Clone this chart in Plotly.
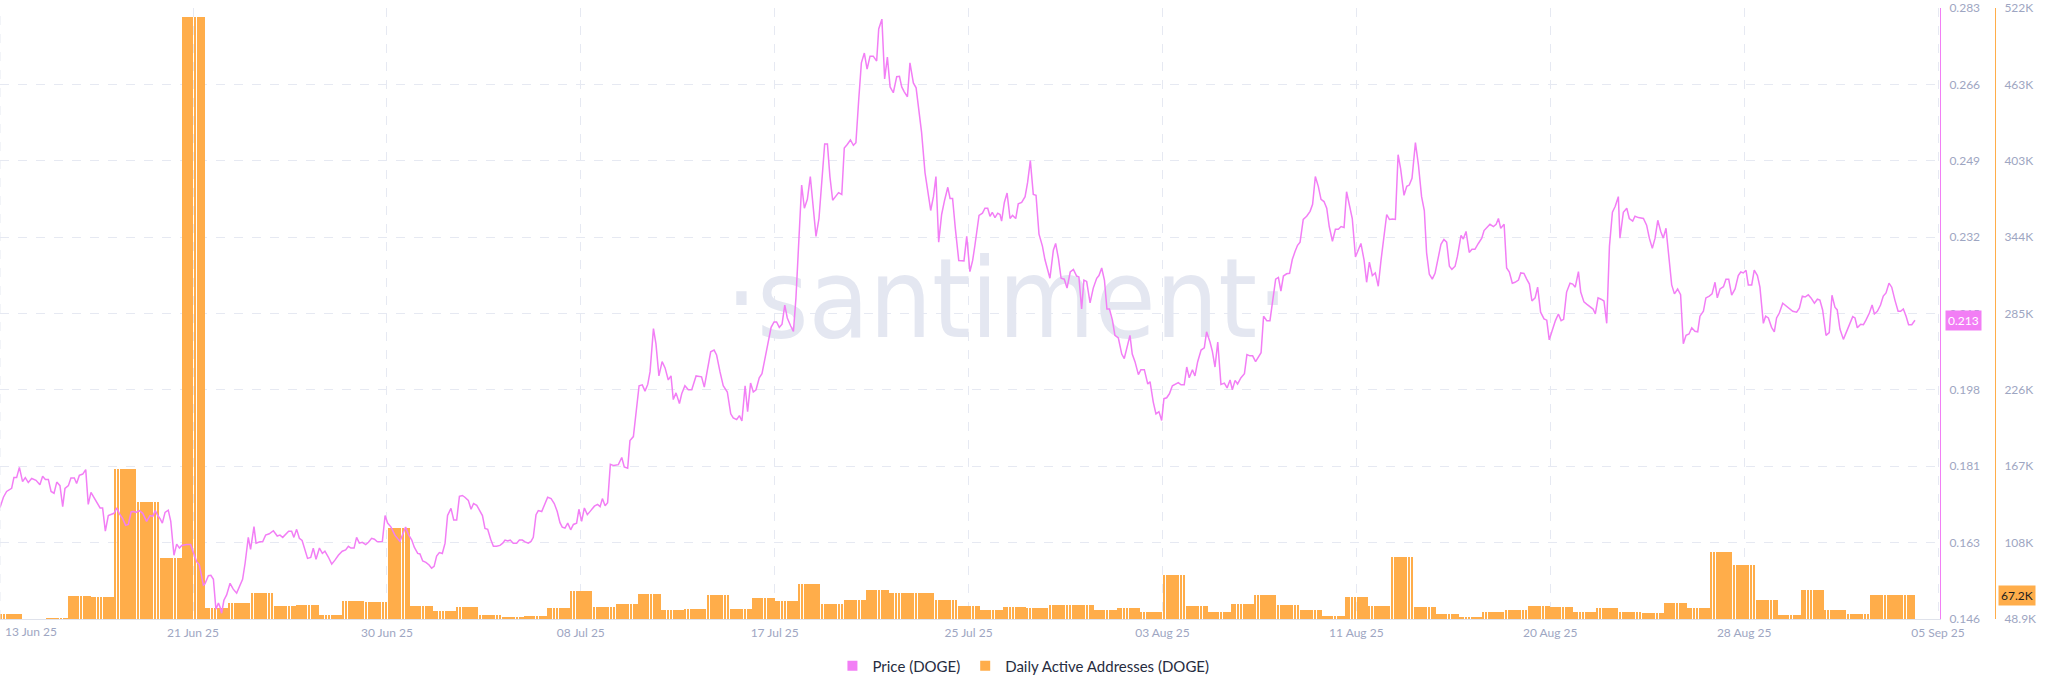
import plotly.graph_objects as go
import pandas as pd

START = pd.Timestamp("2025-06-13 00:00")

# Daily active addresses (thousands), one value per day starting 13 Jun 25
daa_k = [52.9, 49.2, 49.8, 66.5, 66.1, 165.0, 139.3, 95.8, 515.0, 57.2,
         61.2, 69.0, 58.8, 59.7, 52.0, 62.8, 61.9, 119.3, 58.8, 55.4,
         58.2, 52.0, 50.4, 51.0, 57.2, 70.5, 58.2, 60.3, 68.0, 55.7,
         56.3, 67.7, 56.6, 65.3, 62.8, 75.8, 60.3, 64.0, 71.1, 69.3,
         69.3, 63.4, 58.8, 55.7, 58.2, 57.2, 59.7, 59.7, 56.0, 57.2,
         54.5, 82.9, 58.8, 54.5, 60.3, 67.4, 59.7, 56.0, 51.0, 65.9,
         58.8, 96.7, 58.2, 52.6, 50.4, 54.1, 55.7, 58.8, 57.9, 54.1,
         57.2, 54.5, 53.5, 61.0, 57.2, 101.1, 90.6, 63.4, 52.0, 71.4,
         55.7, 52.6, 67.4, 67.2]

# Price (DOGE): time in days since 13 Jun 25 00:00, and price in USD
price_day = [
    0.00, 0.15, 0.29, 0.51, 0.61, 0.73, 0.85, 0.91, 0.99, 1.11, 1.24, 1.39, 1.58, 1.75, 1.87, 1.99,
    2.12, 2.24, 2.37, 2.49, 2.63, 2.75, 2.85, 3.00, 3.11, 3.26, 3.36, 3.48, 3.63, 3.76, 3.87, 3.99,
    4.12, 4.24, 4.39, 4.50, 4.62, 4.75, 4.90, 5.00, 5.12, 5.23, 5.38, 5.51, 5.63, 5.75, 5.85, 5.96,
    6.11, 6.26, 6.43, 6.58, 6.70, 6.81, 6.92, 7.02, 7.12, 7.24, 7.38, 7.49, 7.63, 7.75, 7.87, 7.97,
    8.19, 8.36, 8.48, 8.63, 8.74, 8.92, 8.99, 9.14, 9.25, 9.36, 9.47, 9.58, 9.65, 9.72, 9.82, 9.94,
    10.09, 10.23, 10.38, 10.53, 10.64, 10.75, 10.89, 10.99, 11.14, 11.23, 11.40, 11.52, 11.65, 11.81, 11.99, 12.16,
    12.28, 12.40, 12.54, 12.66, 12.79, 12.89, 13.01, 13.13, 13.25, 13.38, 13.49, 13.63, 13.74, 13.86, 14.01, 14.14,
    14.25, 14.40, 14.55, 14.69, 14.84, 15.01, 15.16, 15.28, 15.39, 15.53, 15.64, 15.76, 15.89, 16.04, 16.16, 16.30,
    16.42, 16.55, 16.77, 16.89, 17.00, 17.15, 17.32, 17.54, 17.66, 17.79, 17.91, 18.06, 18.17, 18.32, 18.42, 18.54,
    18.68, 18.82, 18.93, 19.04, 19.15, 19.27, 19.40, 19.52, 19.63, 19.78, 19.90, 20.03, 20.15, 20.28, 20.39, 20.54,
    20.66, 20.77, 20.91, 21.01, 21.16, 21.27, 21.39, 21.52, 21.64, 21.78, 21.93, 22.05, 22.15, 22.27, 22.38, 22.51,
    22.66, 22.78, 22.91, 23.03, 23.17, 23.29, 23.39, 23.51, 23.61, 23.76, 23.87, 24.02, 24.17, 24.31, 24.44, 24.56,
    24.66, 24.78, 24.90, 25.03, 25.15, 25.29, 25.39, 25.51, 25.63, 25.76, 25.91, 26.07, 26.21, 26.32, 26.42, 26.54,
    26.65, 26.77, 26.92, 27.12, 27.27, 27.38, 27.53, 27.63, 27.78, 27.89, 28.03, 28.17, 28.29, 28.41,
    28.51, 28.66, 28.77, 28.90, 29.04, 29.17, 29.31, 29.43, 29.53, 29.65, 29.80, 29.90, 30.04, 30.19, 30.34, 30.53,
    30.77, 30.89, 31.02, 31.17, 31.32, 31.43, 31.58, 31.72, 31.90, 32.05, 32.16, 32.31, 32.43, 32.54, 32.68, 32.79,
    32.92, 33.04, 33.16, 33.30, 33.42, 33.55, 33.70, 33.82, 33.95, 34.06, 34.18, 34.30, 34.42, 34.53, 34.68, 34.80,
    34.91, 35.03, 35.16, 35.28, 35.41, 35.54, 35.67, 35.79, 35.92, 36.05, 36.17, 36.29, 36.40, 36.52, 36.65, 36.78,
    36.92, 37.03, 37.16, 37.30, 37.43, 37.54, 37.66, 37.78, 37.91, 38.03, 38.16, 38.30, 38.45, 38.54, 38.68, 38.80,
    38.92, 39.04, 39.18, 39.33, 39.45, 39.55, 39.66, 39.80, 39.91, 40.06, 40.18, 40.29, 40.42, 40.57, 40.69, 40.82,
    40.94, 41.05, 41.17, 41.30, 41.43, 41.57, 41.67, 41.78, 41.90, 42.05, 42.28, 42.40, 42.54, 42.66,
    42.76, 42.94, 43.09, 43.20, 43.32, 43.42, 43.52, 43.64, 43.76, 43.86, 43.93, 44.05, 44.17, 44.30, 44.41, 44.55,
    44.66, 44.81, 44.96, 45.07, 45.19, 45.32, 45.44, 45.57, 45.72, 45.83, 46.05, 46.20, 46.30, 46.42, 46.54, 46.68,
    46.80, 46.94, 47.08, 47.22, 47.32, 47.44, 47.54, 47.66, 47.81, 47.95, 48.10, 48.20, 48.32, 48.44, 48.55, 48.66,
    48.79, 48.90, 49.05, 49.20, 49.31, 49.43, 49.56, 49.66, 49.78, 49.93, 50.04, 50.19, 50.34, 50.44, 50.58, 50.70,
    50.83, 50.95, 51.05, 51.17, 51.29, 51.42, 51.53, 51.68, 51.80, 51.94, 52.05, 52.16, 52.30, 52.41, 52.53, 52.68,
    52.82, 52.92, 53.07, 53.17, 53.29, 53.41, 53.55, 53.70, 53.82, 53.95, 54.05, 54.17, 54.28, 54.43, 54.58, 54.69,
    54.82, 54.94, 55.07, 55.19, 55.31, 55.42, 55.56, 55.70, 55.82, 55.95, 56.07, 56.18, 56.29, 56.43, 56.56, 56.68,
    56.80, 56.91,
    57.02, 57.16, 57.31, 57.46, 57.57, 57.69, 57.82, 57.94, 58.07, 58.19, 58.30, 58.44, 58.57, 58.70, 58.82, 58.95,
    59.06, 59.18, 59.31, 59.45, 59.58, 59.69, 59.83, 59.94, 60.06, 60.19, 60.32, 60.45, 60.57, 60.69, 60.82, 60.94,
    61.08, 61.20, 61.32, 61.43, 61.58, 61.70, 61.81, 61.93, 62.08, 62.21, 62.35, 62.47, 62.57, 62.69, 62.82, 62.94,
    63.06, 63.20, 63.33, 63.45, 63.57, 63.68, 63.82, 63.92, 64.08, 64.18, 64.30, 64.44, 64.56, 64.69, 64.84, 64.99,
    65.09, 65.24, 65.35, 65.50, 65.62, 65.72, 65.82, 65.97, 66.08, 66.20, 66.33, 66.45, 66.60, 66.70, 66.84, 66.96,
    67.08, 67.19, 67.33, 67.44, 67.57, 67.72, 67.84, 67.95, 68.10, 68.22, 68.35, 68.47, 68.58, 68.71, 68.86, 68.98,
    69.09, 69.23, 69.33, 69.47, 69.59, 69.74, 69.87, 69.97, 70.09, 70.22, 70.35, 70.47, 70.59, 70.72, 70.84, 70.98,
    71.05, 71.20, 71.35, 71.46, 71.61, 71.71, 71.86, 72.08, 72.22, 72.34, 72.47, 72.59, 72.71, 72.84, 72.95, 73.07,
    73.20, 73.32, 73.44, 73.58, 73.71, 73.83, 73.95, 74.08, 74.20, 74.34, 74.46, 74.56, 74.71, 74.82, 74.97, 75.09,
    75.22, 75.32, 75.44, 75.59, 75.70, 75.82, 75.95, 76.10, 76.24, 76.35, 76.46, 76.58, 76.68, 76.83, 76.94, 77.08,
    77.19, 77.34, 77.44, 77.56, 77.70, 77.82, 77.92, 78.04, 78.19, 78.33, 78.48, 78.63, 78.80, 78.92, 79.05, 79.17,
    79.31, 79.43, 79.58, 79.71, 79.82, 79.94, 80.09, 80.23, 80.35, 80.48, 80.58, 80.70, 80.85, 80.99, 81.14, 81.26,
    81.36, 81.46, 81.61, 81.73, 81.84, 81.99, 82.11, 82.21, 82.34, 82.48, 82.60, 82.72, 82.85, 82.97, 83.11, 83.25,
    83.36, 83.48, 83.60, 83.71, 83.85, 83.99,
]

price_val = [
    0.1710, 0.1733, 0.1746, 0.1753, 0.1777, 0.1777, 0.1800, 0.1786, 0.1768, 0.1777, 0.1766, 0.1775, 0.1771, 0.1761, 0.1780, 0.1773,
    0.1773, 0.1746, 0.1742, 0.1767, 0.1759, 0.1712, 0.1753, 0.1759, 0.1776, 0.1776, 0.1764, 0.1782, 0.1785, 0.1795, 0.1717, 0.1744,
    0.1733, 0.1721, 0.1709, 0.1709, 0.1657, 0.1692, 0.1694, 0.1697, 0.1709, 0.1697, 0.1685, 0.1670, 0.1672, 0.1700, 0.1701, 0.1699,
    0.1703, 0.1697, 0.1679, 0.1692, 0.1690, 0.1703, 0.1692, 0.1685, 0.1675, 0.1699, 0.1704, 0.1679, 0.1603, 0.1628, 0.1619, 0.1625,
    0.1627, 0.1627, 0.1609, 0.1588, 0.1582, 0.1536, 0.1539, 0.1557, 0.1558, 0.1549, 0.1482, 0.1496, 0.1487, 0.1473, 0.1502, 0.1514,
    0.1540, 0.1527, 0.1518, 0.1536, 0.1549, 0.1585, 0.1643, 0.1616, 0.1667, 0.1630, 0.1633, 0.1633, 0.1648, 0.1651, 0.1658, 0.1646,
    0.1648, 0.1643, 0.1650, 0.1657, 0.1657, 0.1643, 0.1661, 0.1641, 0.1636, 0.1614, 0.1596, 0.1598, 0.1619, 0.1594, 0.1619, 0.1607,
    0.1612, 0.1599, 0.1583, 0.1592, 0.1603, 0.1612, 0.1615, 0.1623, 0.1619, 0.1619, 0.1643, 0.1630, 0.1632, 0.1627, 0.1632, 0.1641,
    0.1639, 0.1633, 0.1634, 0.1692, 0.1675, 0.1666, 0.1648, 0.1634, 0.1648, 0.1666, 0.1650, 0.1637, 0.1621, 0.1607, 0.1606, 0.1590,
    0.1587, 0.1581, 0.1574, 0.1578, 0.1601, 0.1609, 0.1607, 0.1630, 0.1692, 0.1708, 0.1682, 0.1682, 0.1735, 0.1737, 0.1733, 0.1726,
    0.1706, 0.1719, 0.1715, 0.1706, 0.1692, 0.1663, 0.1661, 0.1639, 0.1623, 0.1623, 0.1625, 0.1630, 0.1637, 0.1635, 0.1637, 0.1630,
    0.1630, 0.1637, 0.1637, 0.1633, 0.1630, 0.1634, 0.1643, 0.1694, 0.1703, 0.1701, 0.1715, 0.1733, 0.1730, 0.1719, 0.1701, 0.1676,
    0.1666, 0.1664, 0.1675, 0.1660, 0.1672, 0.1675, 0.1706, 0.1679, 0.1709, 0.1694, 0.1703, 0.1713, 0.1717, 0.1712, 0.1730, 0.1714,
    0.1721, 0.1807, 0.1804, 0.1806, 0.1822, 0.1801, 0.1798, 0.1860, 0.1869, 0.1925, 0.1983, 0.1985, 0.1971, 0.1986,
    0.2014, 0.2111, 0.2077, 0.2005, 0.2037, 0.2023, 0.1996, 0.2005, 0.1952, 0.1967, 0.1943, 0.1965, 0.1983, 0.1974, 0.1974, 0.2005,
    0.2003, 0.1980, 0.2019, 0.2059, 0.2063, 0.2052, 0.2014, 0.1983, 0.1969, 0.1920, 0.1911, 0.1907, 0.1916, 0.1904, 0.1983, 0.1925,
    0.1989, 0.1969, 0.1974, 0.2001, 0.2010, 0.2046, 0.2086, 0.2114, 0.2126, 0.2126, 0.2114, 0.2121, 0.2164, 0.2135, 0.2117, 0.2105,
    0.2180, 0.2314, 0.2433, 0.2381, 0.2401, 0.2452, 0.2385, 0.2318, 0.2358, 0.2439, 0.2525, 0.2525, 0.2452, 0.2399, 0.2407, 0.2416,
    0.2412, 0.2516, 0.2524, 0.2534, 0.2522, 0.2528, 0.2622, 0.2707, 0.2729, 0.2693, 0.2722, 0.2722, 0.2711, 0.2783, 0.2805, 0.2671,
    0.2720, 0.2653, 0.2640, 0.2676, 0.2677, 0.2653, 0.2642, 0.2631, 0.2707, 0.2662, 0.2651, 0.2604, 0.2551, 0.2461, 0.2416, 0.2376,
    0.2407, 0.2452, 0.2305, 0.2367, 0.2399, 0.2428, 0.2403, 0.2403, 0.2336, 0.2264, 0.2263, 0.2318, 0.2239, 0.2264,
    0.2298, 0.2365, 0.2370, 0.2381, 0.2381, 0.2363, 0.2372, 0.2360, 0.2370, 0.2367, 0.2352, 0.2394, 0.2415, 0.2358, 0.2365, 0.2358,
    0.2391, 0.2394, 0.2407, 0.2439, 0.2488, 0.2412, 0.2410, 0.2323, 0.2296, 0.2266, 0.2224, 0.2287, 0.2302, 0.2269, 0.2224, 0.2222,
    0.2202, 0.2238, 0.2244, 0.2229, 0.2227, 0.2155, 0.2220, 0.2217, 0.2169, 0.2202, 0.2224, 0.2230, 0.2247, 0.2220, 0.2155, 0.2155,
    0.2130, 0.2096, 0.2090, 0.2054, 0.2044, 0.2068, 0.2096, 0.2054, 0.2037, 0.2008, 0.2019, 0.2019, 0.1987, 0.1992, 0.1947, 0.1920,
    0.1925, 0.1905, 0.1954, 0.1956, 0.1965, 0.1983, 0.1986, 0.1990, 0.1985, 0.1985, 0.2025, 0.2001, 0.2019, 0.2005, 0.2037, 0.2063,
    0.2068, 0.2104, 0.2081, 0.2061, 0.2025, 0.2081, 0.1986, 0.1989, 0.1978, 0.1996, 0.1974, 0.1995, 0.1987, 0.2001, 0.2010, 0.2053,
    0.2050, 0.2050, 0.2037, 0.2047, 0.2057, 0.2139, 0.2129, 0.2129, 0.2177, 0.2222, 0.2226, 0.2195, 0.2229, 0.2234, 0.2235, 0.2266,
    0.2284, 0.2298,
    0.2305, 0.2356, 0.2363, 0.2374, 0.2390, 0.2452, 0.2430, 0.2401, 0.2396, 0.2381, 0.2340, 0.2307, 0.2334, 0.2334, 0.2340, 0.2338,
    0.2418, 0.2385, 0.2358, 0.2272, 0.2287, 0.2302, 0.2264, 0.2215, 0.2260, 0.2230, 0.2236, 0.2206, 0.2264, 0.2318, 0.2367, 0.2356,
    0.2357, 0.2356, 0.2501, 0.2470, 0.2410, 0.2430, 0.2433, 0.2448, 0.2528, 0.2479, 0.2407, 0.2376, 0.2281, 0.2233, 0.2222, 0.2235,
    0.2264, 0.2300, 0.2311, 0.2305, 0.2251, 0.2244, 0.2251, 0.2273, 0.2320, 0.2312, 0.2329, 0.2282, 0.2289, 0.2289, 0.2302, 0.2314,
    0.2331, 0.2340, 0.2345, 0.2340, 0.2345, 0.2358, 0.2336, 0.2345, 0.2247, 0.2238, 0.2213, 0.2215, 0.2220, 0.2236, 0.2235, 0.2222,
    0.2211, 0.2173, 0.2180, 0.2204, 0.2148, 0.2133, 0.2130, 0.2086, 0.2113, 0.2129, 0.2144, 0.2129, 0.2132, 0.2193, 0.2213, 0.2211,
    0.2204, 0.2239, 0.2193, 0.2171, 0.2166, 0.2159, 0.2155, 0.2144, 0.2180, 0.2177, 0.2173, 0.2123, 0.2296, 0.2372, 0.2385, 0.2407,
    0.2314, 0.2372, 0.2381, 0.2358, 0.2352, 0.2363, 0.2360, 0.2358, 0.2343, 0.2314, 0.2291, 0.2314, 0.2354, 0.2329, 0.2314, 0.2336,
    0.2264, 0.2209, 0.2189, 0.2200, 0.2187, 0.2077, 0.2096, 0.2099, 0.2113, 0.2105, 0.2104, 0.2139, 0.2150, 0.2180, 0.2184, 0.2189,
    0.2215, 0.2180, 0.2200, 0.2205, 0.2222, 0.2222, 0.2186, 0.2200, 0.2230, 0.2238, 0.2236, 0.2242, 0.2209, 0.2209, 0.2242, 0.2230,
    0.2204, 0.2123, 0.2139, 0.2135, 0.2114, 0.2104, 0.2135, 0.2146, 0.2168, 0.2162, 0.2155, 0.2150, 0.2148, 0.2157, 0.2184, 0.2182,
    0.2187, 0.2180, 0.2168, 0.2177, 0.2175, 0.2153, 0.2096, 0.2102, 0.2186, 0.2159, 0.2153, 0.2110, 0.2087, 0.2104, 0.2123, 0.2138,
    0.2135, 0.2113, 0.2121, 0.2120, 0.2130, 0.2146, 0.2164, 0.2144, 0.2150, 0.2164, 0.2184, 0.2191, 0.2213, 0.2204, 0.2175, 0.2150,
    0.2150, 0.2155, 0.2139, 0.2120, 0.2120, 0.2130,
]

x_tick_labels = ["21 Jun 25", "30 Jun 25", "08 Jul 25", "17 Jul 25", "25 Jul 25",
                 "03 Aug 25", "11 Aug 25", "20 Aug 25", "28 Aug 25", "05 Sep 25"]
first_tick_label = "13 Jun 25"
price_tick_labels = ["0.146", "0.163", "0.181", "0.198", "0.215", "0.232", "0.249", "0.266", "0.283"]
daa_tick_labels = ["48.9K", "108K", "167K", "226K", "285K", "344K", "403K", "463K", "522K"]
price_range = [0.146, 0.283]
daa_range = [48900, 522000]
last_price_label = "0.213"
last_daa_label = "67.2K"
last_daa_value = 67200

PINK = "#F27EF5"
ORANGE = "#FFAD4A"
GRID = "#E6E9F2"
TICK = "#9EA6C2"
FONT = "Lato"

n = min(len(price_day), len(price_val))
price_x = [START + pd.Timedelta(days=d) for d in price_day[:n]]
price_y = price_val[:n]

# DAA: each daily value drawn as thin stripes across the day (8 per day)
STRIPES = 8
bar_x, bar_y = [], []
for k, v in enumerate(daa_k):
    for j in range(STRIPES):
        bar_x.append(START + pd.Timedelta(days=k + (j + 0.5) / STRIPES))
        bar_y.append(v * 1000)
bar_width_ms = 24 / STRIPES * 3600 * 1000 * 0.7

PX_PER_DAY = 22.8
x_end = START + pd.Timedelta(days=1940 / PX_PER_DAY)
tick_days = [8.465 + i * 8.504 for i in range(len(x_tick_labels))]
x_tickvals = [START + pd.Timedelta(days=d) for d in tick_days]

n_y = len(price_tick_labels)
price_tickvals = [price_range[0] + i * (price_range[1] - price_range[0]) / (n_y - 1) for i in range(n_y)]
daa_tickvals = [daa_range[0] + i * (daa_range[1] - daa_range[0]) / (n_y - 1) for i in range(n_y)]

fig = go.Figure()

fig.add_trace(go.Bar(
    x=bar_x, y=bar_y, width=bar_width_ms, marker=dict(color=ORANGE, line=dict(width=0)),
    yaxis="y", xaxis="x", showlegend=False, hoverinfo="skip",
))

# watermark (drawn beneath the price line)
fig.add_trace(go.Scatter(
    x=[START + pd.Timedelta(days=44.17)], y=[0.2153], mode="text", text=["·santiment·"],
    textfont=dict(size=110, color="#E4E7F1",
                  family="Liberation Sans Narrow, DejaVu Sans Condensed, Open Sans"),
    textposition="middle center",
    yaxis="y2", showlegend=False, hoverinfo="skip",
))

fig.add_trace(go.Scatter(
    x=price_x, y=price_y, mode="lines", line=dict(color=PINK, width=1.5),
    yaxis="y2", showlegend=False, hoverinfo="skip",
))

# legend entries with square swatches
fig.add_trace(go.Scatter(x=[None], y=[None], mode="markers", name="Price (DOGE)",
                         marker=dict(symbol="square", size=10, color=PINK), yaxis="y2"))
fig.add_trace(go.Scatter(x=[None], y=[None], mode="markers", name="Daily Active Addresses (DOGE)",
                         marker=dict(symbol="square", size=10, color=ORANGE), yaxis="y2"))

fig.update_layout(
    width=2048, height=693,
    margin=dict(l=0, r=53, t=8, b=74),
    paper_bgcolor="white", plot_bgcolor="white",
    bargap=0,
    font=dict(family=FONT, color=TICK, size=12),
    xaxis=dict(
        type="date", domain=[0, 1940 / 1995], range=[START, x_end],
        tickvals=x_tickvals, ticktext=x_tick_labels,
        showgrid=True, gridcolor=GRID, griddash="dash", gridwidth=1,
        showline=True, linecolor="#DFE2EB", linewidth=1,
        ticks="", tickfont=dict(size=12, color=TICK, family=FONT),
        ticklabelstandoff=3, zeroline=False, fixedrange=True,
    ),
    yaxis=dict(
        range=daa_range, side="right", anchor="free", position=1.0,
        tickvals=daa_tickvals, ticktext=daa_tick_labels,
        showgrid=True, gridcolor=GRID, griddash="dash", gridwidth=1,
        showline=True, linecolor=ORANGE, linewidth=1,
        ticks="", tickfont=dict(size=12, color=TICK, family=FONT),
        ticklabelstandoff=6, zeroline=False,
    ),
    yaxis2=dict(
        range=price_range, side="right", overlaying="y", anchor="x",
        tickvals=price_tickvals, ticktext=price_tick_labels,
        showgrid=False, showline=True, linecolor=PINK, linewidth=1,
        ticks="", tickfont=dict(size=12, color=TICK, family=FONT),
        ticklabelstandoff=6, zeroline=False,
    ),
    legend=dict(
        orientation="h", x=0.513, xanchor="center", y=-0.077, yanchor="middle",
        font=dict(size=15, color="#272C40", family=FONT), itemwidth=30,
        bgcolor="rgba(0,0,0,0)",
    ),
    shapes=[dict(type="line", xref="paper", yref="paper", x0=0, x1=0, y0=0, y1=1,
                 line=dict(color=GRID, width=1, dash="dash"))],
    annotations=[
        dict(text=first_tick_label, xref="paper", yref="paper", x=0, y=0,
             xanchor="left", yanchor="middle", xshift=3, yshift=-12, showarrow=False,
             font=dict(size=12, color=TICK, family=FONT)),
        dict(text=last_price_label, xref="paper", yref="y2", x=1945 / 1995, y=float(last_price_label),
             xanchor="left", yanchor="middle", showarrow=False, bgcolor=PINK, borderpad=2,
             font=dict(size=12, color="white", family=FONT)),
        dict(text=last_daa_label, xref="paper", yref="y", x=1998 / 1995, y=last_daa_value,
             xanchor="left", yanchor="middle", showarrow=False, bgcolor=ORANGE, borderpad=2,
             font=dict(size=12, color="#1E1E1E", family=FONT)),
    ],
)

fig.write_html(
    "out.html",
    config={"displayModeBar": False},
    post_script="document.body.style.margin='0';document.body.style.overflow='hidden';",
)
